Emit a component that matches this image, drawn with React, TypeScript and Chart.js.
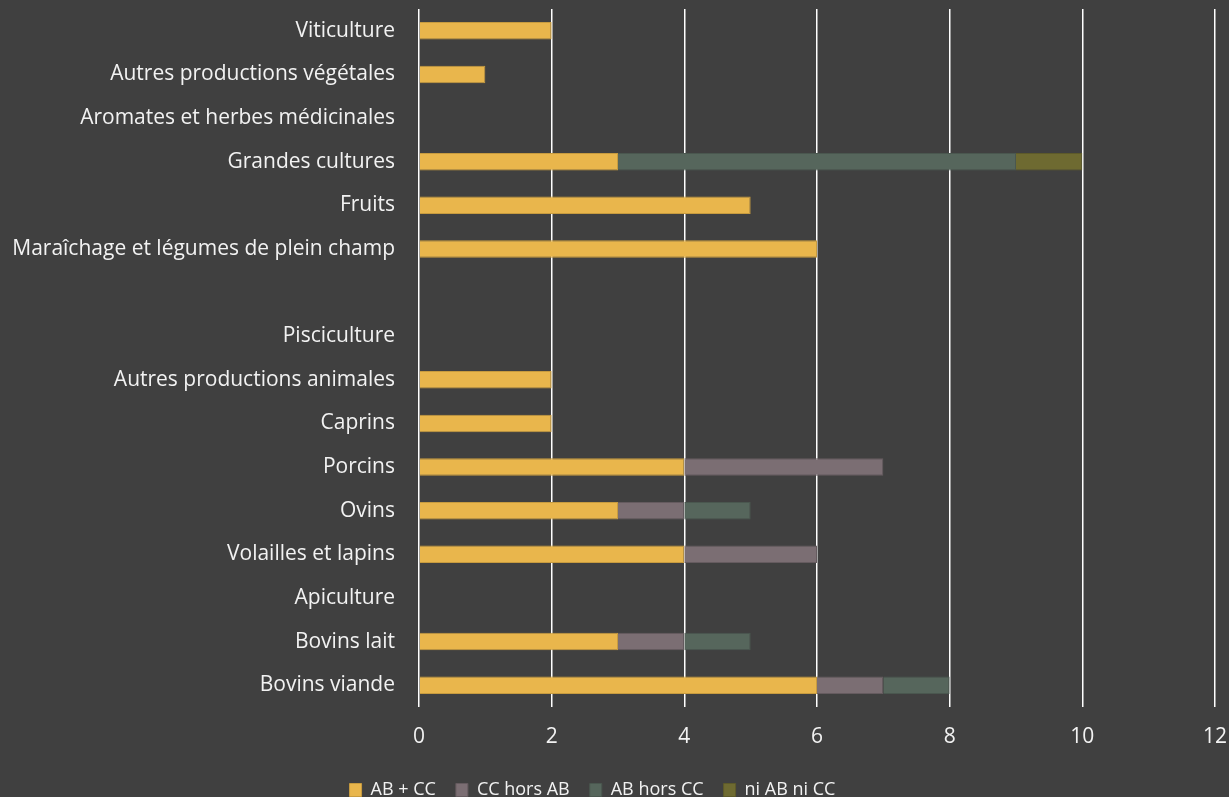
import React, { useEffect, useRef } from "react";
import { Chart, registerables } from "chart.js";

Chart.register(...registerables);

const categories = [
  "Viticulture",
  "Autres productions végétales",
  "Aromates et herbes médicinales",
  "Grandes cultures",
  "Fruits",
  "Maraîchage et légumes de plein champ",
  " ",
  "Pisciculture",
  "Autres productions animales",
  "Caprins",
  "Porcins",
  "Ovins",
  "Volailles et lapins",
  "Apiculture",
  "Bovins lait",
  "Bovins viande",
];

const abCc = [2, 1, null, 3, 5, 6, null, null, 2, 2, 4, 3, 4, null, 3, 6];
const ccHorsAb = [null, null, null, null, null, null, null, null, null, null, 3, 1, 2, null, 1, 1];
const abHorsCc = [null, null, null, 6, null, null, null, null, null, null, null, 1, null, null, 1, 1];
const niAbNiCc = [null, null, null, 1, null, null, null, null, null, null, null, null, null, null, null, null];

const seriesNames = ["AB + CC", "CC hors AB", "AB hors CC", "ni AB ni CC"];
const xTicks = [0, 2, 4, 6, 8, 10, 12];

const FONT = "'Open Sans', 'DejaVu Sans', sans-serif";
const TEXT = "#F2F2F2";

export default function App() {
  const ref = useRef<HTMLCanvasElement | null>(null);

  useEffect(() => {
    document.body.style.margin = "0";
    document.body.style.background = "#404040";
    const canvas = ref.current;
    if (!canvas) return;

    const legendShift = {
      id: "legendShift",
      afterLayout(chart: any) {
        const lg = chart.legend;
        if (lg) {
          lg.right -= 30;
          lg.top += 6;
          lg.bottom += 6;
        }
      },
    };

    const chart = new Chart(canvas, {
      type: "bar",
      data: {
        labels: categories,
        datasets: [
          { label: seriesNames[0], data: abCc, backgroundColor: "#E9B64C", borderColor: "#C79B3F", borderWidth: 1 },
          { label: seriesNames[1], data: ccHorsAb, backgroundColor: "#7B6E73", borderColor: "#655B5F", borderWidth: 1 },
          { label: seriesNames[2], data: abHorsCc, backgroundColor: "#56665C", borderColor: "#4A574F", borderWidth: 1 },
          { label: seriesNames[3], data: niAbNiCc, backgroundColor: "#6E6A31", borderColor: "#5D5A2A", borderWidth: 1 },
        ],
      },
      options: {
        indexAxis: "y",
        responsive: false,
        animation: false,
        maintainAspectRatio: false,
        layout: { padding: { left: 0, right: 14, top: 9, bottom: -6 } },
        datasets: {
          bar: { categoryPercentage: 1, barPercentage: 0.4 },
        },
        scales: {
          x: {
            stacked: true,
            min: 0,
            max: 12,
            afterBuildTicks(scale: any) {
              scale.ticks = xTicks.map((v) => ({ value: v }));
            },
            afterFit(scale: any) {
              scale.paddingLeft = 0;
              scale.paddingRight = 0;
              scale.height = 48;
            },
            grid: { color: "#FFFFFF", lineWidth: 1.5, drawTicks: false },
            border: { display: false },
            ticks: { color: TEXT, font: { family: FONT, size: 21 }, padding: 17 },
          },
          y: {
            stacked: true,
            afterFit(scale: any) {
              scale.width = 419;
              scale.paddingTop = 0;
              scale.paddingBottom = 0;
            },
            grid: { display: false, drawTicks: false },
            border: { display: false },
            ticks: { color: TEXT, font: { family: FONT, size: 21 }, padding: 24, autoSkip: false },
          },
        },
        plugins: {
          legend: {
            position: "bottom",
            labels: {
              color: TEXT,
              font: { family: FONT, size: 18 },
              boxWidth: 12,
              boxHeight: 13,
              padding: 20,
            },
          },
          tooltip: { enabled: false },
        },
      },
      plugins: [legendShift],
    } as any);

    return () => chart.destroy();
  }, []);

  return (
    <div style={{ position: "fixed", left: 0, top: 0, width: 1229, height: 797, background: "#404040" }}>
      <canvas ref={ref} width={1229} height={797} style={{ width: 1229, height: 797, display: "block" }} />
    </div>
  );
}
